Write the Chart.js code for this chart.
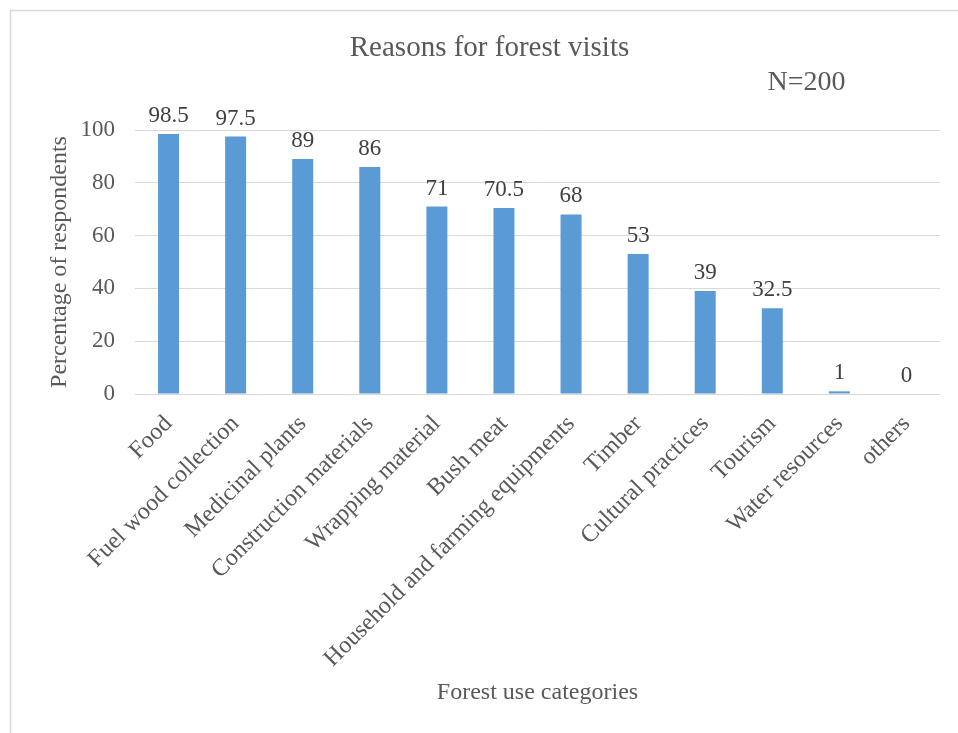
<!DOCTYPE html>
<html>
<head>
<meta charset="utf-8">
<title>Reasons for forest visits</title>
<script src="https://cdn.jsdelivr.net/npm/chart.js@4.4.1/dist/chart.umd.min.js"></script>
<style>
  html, body { margin: 0; padding: 0; background: #ffffff; }
  #wrap { position: relative; width: 958px; height: 733px; }
</style>
</head>
<body>
<div id="wrap"><canvas id="chart"></canvas></div>
<script>
// Forest use categories and share of respondents (%)
const categories = [
  'Food', 'Fuel wood collection', 'Medicinal plants', 'Construction materials',
  'Wrapping material', 'Bush meat', 'Household and farming equipments', 'Timber',
  'Cultural practices', 'Tourism', 'Water resources', 'others'
];
const percentages = [98.5, 97.5, 89, 86, 71, 70.5, 68, 53, 39, 32.5, 1, 0];
const yTicks = [0, 20, 40, 60, 80, 100];
const sampleNote = 'N=200';

const SERIF = '"Liberation Serif", "Times New Roman", serif';
const GREY = '#595959';

// White background plus the thin frame at the top and left edge
const frame = {
  id: 'frame',
  beforeDraw(chart) {
    const ctx = chart.ctx;
    ctx.save();
    ctx.fillStyle = '#ffffff';
    ctx.fillRect(0, 0, chart.width, chart.height);
    ctx.strokeStyle = '#d9d9d9';
    ctx.lineWidth = 1.5;
    ctx.beginPath();
    ctx.moveTo(10.5, chart.height + 2);
    ctx.lineTo(10.5, 10.5);
    ctx.lineTo(chart.width + 2, 10.5);
    ctx.stroke();
    ctx.restore();
  }
};

// Value above each bar, and the sample size note
const annotations = {
  id: 'annotations',
  afterDatasetsDraw(chart) {
    const ctx = chart.ctx;
    const meta = chart.getDatasetMeta(0);
    ctx.save();
    ctx.font = '23px ' + SERIF;
    ctx.fillStyle = '#404040';
    ctx.textAlign = 'center';
    ctx.textBaseline = 'alphabetic';
    meta.data.forEach((bar, i) => {
      ctx.fillText(String(percentages[i]), bar.x, bar.y - 12);
    });
    ctx.font = '28px ' + SERIF;
    ctx.fillStyle = GREY;
    ctx.fillText(sampleNote, 806.5, 90);
    ctx.restore();
  }
};

new Chart(document.getElementById('chart'), {
  type: 'bar',
  data: {
    labels: categories,
    datasets: [{
      data: percentages,
      backgroundColor: '#5B9BD5',
      borderWidth: 0,
      categoryPercentage: 1,
      barPercentage: 0.313
    }]
  },
  options: {
    responsive: true,
    maintainAspectRatio: false,
    animation: false,
    layout: { padding: { left: 39, right: 18, top: 0, bottom: 10 } },
    plugins: {
      legend: { display: false },
      tooltip: { enabled: false },
      title: {
        display: true,
        text: 'Reasons for forest visits',
        color: GREY,
        font: { family: SERIF, size: 29, weight: 'normal' },
        padding: { top: 30.6, bottom: 64.6 }
      }
    },
    scales: {
      x: {
        grid: { display: false, drawTicks: false },
        border: { display: false },
        ticks: {
          autoSkip: false,
          minRotation: 45,
          maxRotation: 45,
          padding: 16,
          color: GREY,
          font: { family: SERIF, size: 24 }
        },
        title: {
          display: true,
          text: 'Forest use categories',
          color: GREY,
          font: { family: SERIF, size: 24 },
          padding: { top: 0, bottom: 15.6 }
        },
        afterFit(scale) { scale.height = 329; }
      },
      y: {
        min: 0,
        max: 100,
        afterBuildTicks(scale) { scale.ticks = yTicks.map(v => ({ value: v })); },
        grid: { color: '#d9d9d9', lineWidth: 1, drawTicks: false },
        border: { display: false },
        ticks: {
          padding: 20,
          color: GREY,
          font: { family: SERIF, size: 23 }
        },
        title: {
          display: true,
          text: 'Percentage of respondents',
          color: GREY,
          font: { family: SERIF, size: 24 },
          padding: { top: 6.6, bottom: 0 }
        },
        afterFit(scale) { scale.width = 96; }
      }
    }
  },
  plugins: [frame, annotations]
});
</script>
</body>
</html>
